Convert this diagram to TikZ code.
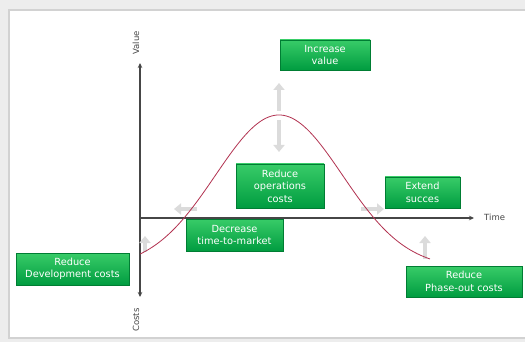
\documentclass[tikz,border=0pt]{standalone}
\usepackage{fontspec}
\setmainfont{DejaVu Sans}
\usetikzlibrary{arrows.meta,shadows}
\definecolor{greentop}{RGB}{56,204,104}
\definecolor{greenbot}{RGB}{0,156,64}
\definecolor{curvered}{RGB}{178,50,80}
\definecolor{axisgray}{RGB}{70,70,70}

\begin{document}
\begin{tikzpicture}[x=1pt,y=-1pt,
  greenbox/.style={draw=greenbot!80!black, line width=.3pt, top color=greentop, bottom color=greenbot,
    text=white, align=center, inner sep=0pt, font=\fontsize{9.8}{12.5}\selectfont,
    drop shadow={opacity=.25, shadow xshift=1pt, shadow yshift=-1pt}},
  axis/.style={axisgray, line width=1.2pt, -{Stealth[length=5pt,width=4.5pt]}},
  axislabel/.style={axisgray, font=\fontsize{8.5}{10}\selectfont, inner sep=0pt},
  grayarrow/.style={gray!28, line width=4.5pt, -{Triangle[width=11pt,length=7pt]}}]
        % frame
        \fill[gray!14] (0,0) rectangle (525,342);
        \fill[gray!35] (8,9) rectangle (525,339);
        \fill[white] (10,11) rectangle (525,337);
        \useasboundingbox (0,0) rectangle (525,342);
        % axes
        \coordinate (O) at (140,218);
        \coordinate (vtop) at (140,63);
        \coordinate (vbot) at (140,297);
        \coordinate (tend) at (474,218);
        \draw[axis] (O) -- (vtop);
        \draw[axis] (O) -- (vbot);
        \draw[axis] (O) -- (tend);
        \node[axislabel, rotate=90] (lvalue) at (136,43) {Value};
        \node[axislabel, rotate=90] (lcosts) at (136,320) {Costs};
        \node[axislabel, anchor=west] (ltime) at (484,217) {Time};
        % gray arrows
        \coordinate (up0) at (279,111);
        \coordinate (up1) at (279,83);
        \coordinate (dn0) at (279,120);
        \coordinate (dn1) at (279,152);
        \coordinate (lf0) at (197,209);
        \coordinate (lf1) at (174,209);
        \coordinate (rt0) at (361,209);
        \coordinate (rt1) at (384,209);
        \coordinate (dv0) at (145,252);
        \coordinate (dv1) at (145,236);
        \coordinate (ph0) at (425,259);
        \coordinate (ph1) at (425,236);
        \draw[grayarrow] (up0) -- (up1);
        \draw[grayarrow] (dn0) -- (dn1);
        \draw[grayarrow] (lf0) -- (lf1);
        \draw[grayarrow] (rt0) -- (rt1);
        \draw[grayarrow] (dv0) -- (dv1);
        \draw[grayarrow] (ph0) -- (ph1);
        % life cycle curve
        \draw[curvered, line width=.8pt, domain=140:430, samples=120, smooth]
          plot (\x, {268-153*exp(-((\x-279)/89.8)^2)});
        % boxes
        \node[greenbox, minimum width=90pt, minimum height=30pt] (value) at (325,55) {Increase\\value};
        \node[greenbox, minimum width=88pt, minimum height=44pt] (opcost) at (280,186) {Reduce\\operations\\costs};
        \node[greenbox, minimum width=75pt, minimum height=31pt] (extend) at (422.5,192.5) {Extend\\succes};
        \node[greenbox, minimum width=97pt, minimum height=32pt] (ttm) at (234.5,235) {Decrease\\time-to-market};
        \node[greenbox, minimum width=113pt, minimum height=32pt] (devcost) at (72.5,269) {Reduce\\Development costs};
        \node[greenbox, minimum width=116pt, minimum height=31pt] (phaseout) at (464,281.5) {Reduce\\Phase-out costs};
\end{tikzpicture}
\end{document}
